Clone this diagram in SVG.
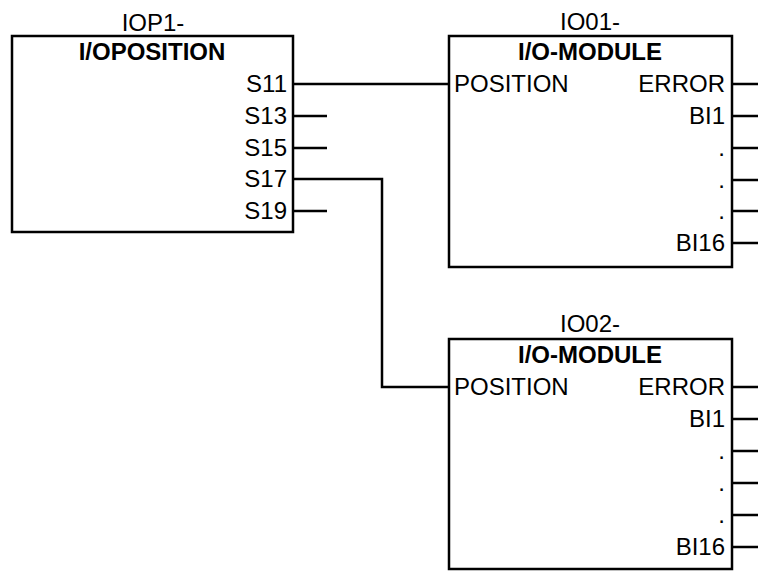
<svg xmlns="http://www.w3.org/2000/svg" width="758" height="574" viewBox="0 0 758 574">
<style>
.box{fill:#fff;stroke:#000;stroke-width:2.5}
.w{fill:none;stroke:#000;stroke-width:2.5}
text{font-family:"Liberation Sans",Arial,sans-serif;font-size:24px;fill:#000}
.t{text-anchor:middle}
.b{font-weight:bold;text-anchor:middle}
.r{text-anchor:end}
</style>
<rect width="758" height="574" fill="#fff"/>
<g id="connectors">
<path class="w" d="M293 84H449"/>
<path class="w" d="M293 116H327M293 148H327M293 211H327"/>
<path class="w" d="M293 179H382V387H449"/>
<path class="w" d="M732 84H758M732 116H758M732 148H758M732 180H758M732 211H758M732 243H758"/>
<path class="w" d="M732 387H758M732 419H758M732 451H758M732 483H758M732 515H758M732 547H758"/>
</g>
<g id="IOP1">
<rect class="box" x="12" y="36" width="281" height="196"/>
<text class="t" x="153" y="31">IOP1-</text>
<text class="b" x="152" y="60">I/OPOSITION</text>
<text class="r" x="287" y="92">S11</text>
<text class="r" x="287" y="124">S13</text>
<text class="r" x="287" y="156">S15</text>
<text class="r" x="287" y="187">S17</text>
<text class="r" x="287" y="219">S19</text>
</g>
<g id="IO01">
<rect class="box" x="449" y="36" width="283" height="231"/>
<text class="t" x="590" y="30">IO01-</text>
<text class="b" x="590" y="60">I/O-MODULE</text>
<text x="454" y="92">POSITION</text>
<text class="r" x="725" y="92">ERROR</text>
<text class="r" x="725" y="124">BI1</text>
<text class="r" x="725" y="156">.</text>
<text class="r" x="725" y="188">.</text>
<text class="r" x="725" y="219">.</text>
<text class="r" x="725" y="251">BI16</text>
</g>
<g id="IO02">
<rect class="box" x="449" y="339" width="283" height="230"/>
<text class="t" x="590" y="332">IO02-</text>
<text class="b" x="590" y="363">I/O-MODULE</text>
<text x="454" y="395">POSITION</text>
<text class="r" x="725" y="395">ERROR</text>
<text class="r" x="725" y="427">BI1</text>
<text class="r" x="725" y="459">.</text>
<text class="r" x="725" y="491">.</text>
<text class="r" x="725" y="523">.</text>
<text class="r" x="725" y="555">BI16</text>
</g>
</svg>
